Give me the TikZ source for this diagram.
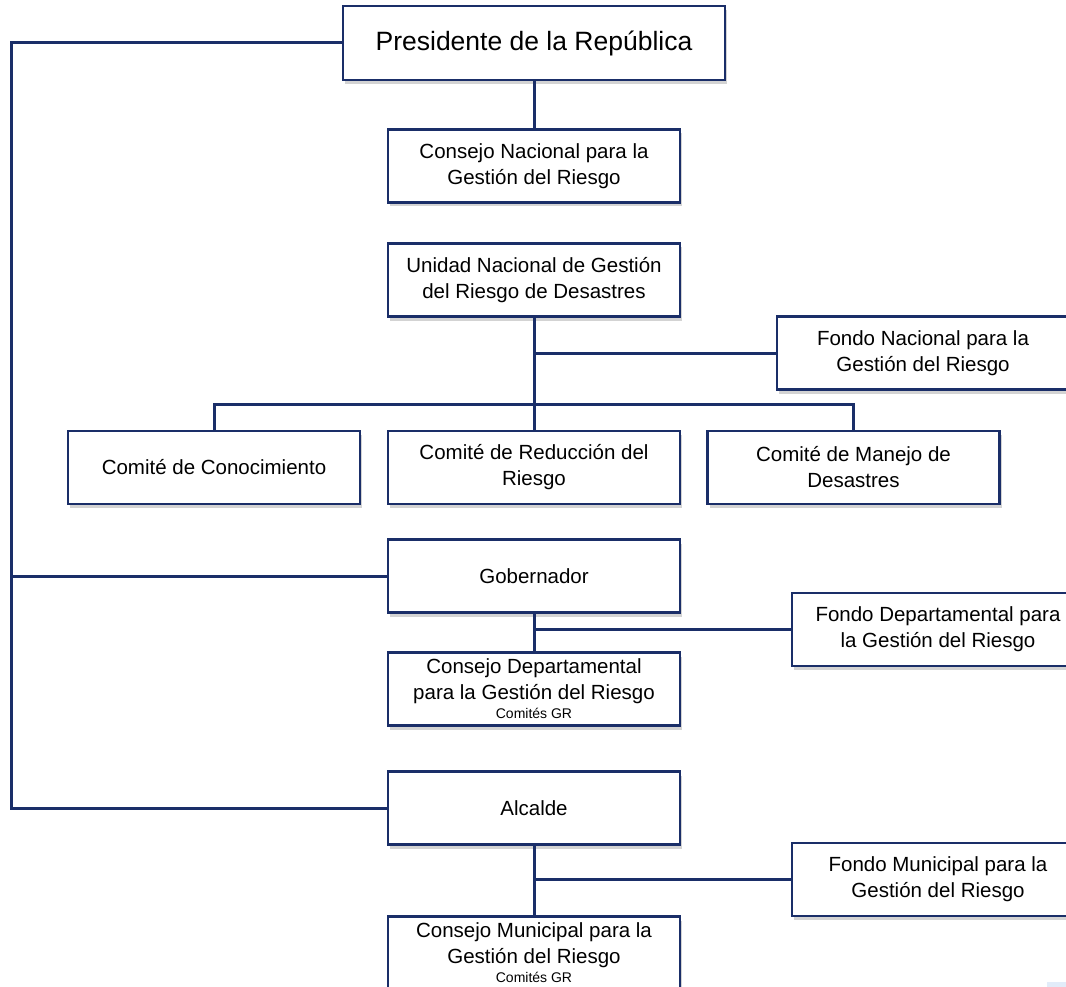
\documentclass[tikz,border=0pt]{standalone}
\usepackage{fontspec}
\setmainfont{Liberation Sans}
\usetikzlibrary{shadows}
\definecolor{navy}{RGB}{26,46,104}
\definecolor{patch}{RGB}{226,236,249}
\tikzset{
  box/.style={draw=navy, line width=2.4pt, fill=white, minimum width=292pt, minimum height=73pt,
    inner sep=0pt, outer sep=0pt, align=center,
    font=\fontsize{20.5}{26}\selectfont,
    drop shadow={shadow xshift=2pt, shadow yshift=-4pt, fill=black!50, opacity=0.35}},
  conn/.style={draw=navy, line width=3pt},
}
\newcommand{\grtext}{\fontsize{14}{16}\selectfont Comités GR}
\begin{document}
\begin{tikzpicture}[x=1pt,y=-1pt]
\useasboundingbox (0,0) rectangle (1066,987);
\clip (0,0) rectangle (1066,987);
% coordinates for connector corners
\coordinate (tl) at (11,43);
\coordinate (bus) at (534,404);
% nodes
\node[box, minimum width=382pt, minimum height=74pt, font=\fontsize{26.5}{30}\selectfont] (pres) at (534,43) {Presidente de la República};
\node[box] (cn) at (534,166) {Consejo Nacional para la\\Gestión del Riesgo};
\node[box] (un) at (534,280) {Unidad Nacional de Gestión\\del Riesgo de Desastres};
\node[box] (fn) at (923,353) {Fondo Nacional para la\\Gestión del Riesgo};
\node[box] (cc) at (214,467.5) {Comité de Conocimiento};
\node[box] (cr) at (534,467.5) {Comité de Reducción del\\Riesgo};
\node[box] (cm) at (853.5,467.5) {Comité de Manejo de\\Desastres};
\node[box] (gob) at (534,576) {Gobernador};
\node[box] (fd) at (938,629.5) {Fondo Departamental para\\la Gestión del Riesgo};
\node[box] (cd) at (534,689) {Consejo Departamental\\para la Gestión del Riesgo\\[-7pt]\grtext};
\node[box] (alc) at (534,808) {Alcalde};
\node[box] (fm) at (938,879.5) {Fondo Municipal para la\\Gestión del Riesgo};
\node[box] (cmu) at (534,953) {Consejo Municipal para la\\Gestión del Riesgo\\[-7pt]\grtext};
% connectors
\draw[conn] (pres.west) -- (tl) |- (alc.west);
\draw[conn] (gob.west) -- (gob.west -| tl);
\draw[conn] (pres.south) -- (cn.north);
\draw[conn] (un.south) -- (cr.north);
\draw[conn] (un.south |- fn.west) -- (fn.west);
\draw[conn] (cc.north) |- (bus) -| (cm.north);
\draw[conn] (gob.south) -- (cd.north);
\draw[conn] (gob.south |- fd.west) -- (fd.west);
\draw[conn] (alc.south) -- (cmu.north);
\draw[conn] (alc.south |- fm.west) -- (fm.west);
\fill[patch] (1047,982) rectangle (1066,987);
\end{tikzpicture}
\end{document}
